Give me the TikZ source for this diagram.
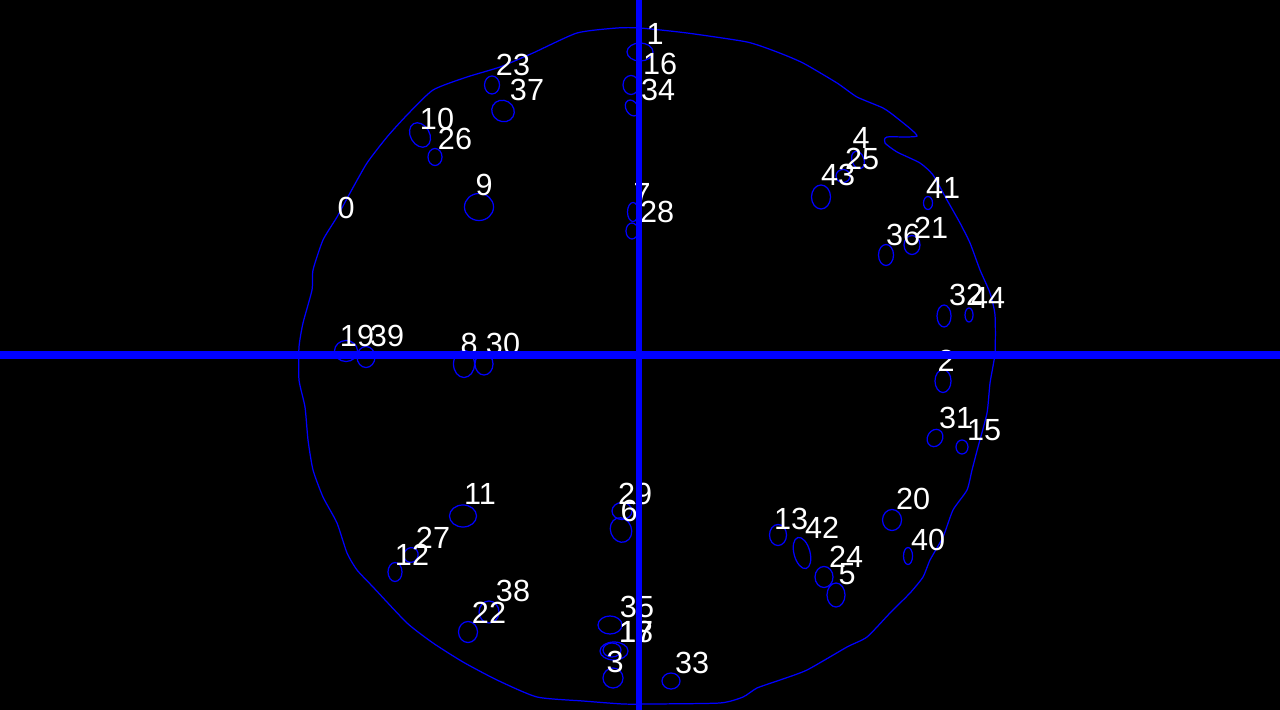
\documentclass[tikz,border=0pt]{standalone}
\usepackage{fontspec}
\setmainfont{Liberation Sans}
\begin{document}
\begin{tikzpicture}[x=0.01cm,y=-0.01cm,
  outline/.style={draw={rgb,255:red,0;green,0;blue,255},line width=0.35pt},
  blob/.style={draw={rgb,255:red,0;green,0;blue,255},line width=0.35pt},
  axis/.style={draw={rgb,255:red,0;green,0;blue,255},line width=1.8pt},
  lbl/.style={text=white,inner sep=0pt,font=\fontsize{8.7pt}{10pt}\selectfont}]
\fill[black] (0,0) rectangle (1280,710);
\useasboundingbox (0,0) rectangle (1280,710);
% outline
\draw[outline] plot[smooth cycle,tension=0.35] coordinates {
(640,28) (687,33) (747,42) (777,52) (803,63) (837,83) (857,97) (883,108) (897,118) (917,136) (887,137) (885,143) (897,152) (920,163) (933,175) (947,200) (960,223) (970,243) (980,270) (990,293) (995,315) (995,353) (990,383) (987,413) (978,447) (972,470) (967,490) (953,510) (943,537) (930,560) (923,577) (910,593) (890,613) (867,637) (847,647) (807,670) (780,680) (757,688) (743,697) (720,703) (650,704) (623,704) (583,701) (537,697) (497,680) (463,662) (433,643) (407,623) (373,587) (357,570) (347,553) (337,523) (323,497) (313,470) (308,440) (305,407) (299,380) (299,347) (303,323) (312,290) (313,270) (323,240) (337,217) (350,193) (367,163) (387,137) (407,115) (433,90) (467,77) (500,67) (533,53) (577,33) (617,28)};
% blobs
\foreach \cx/\cy/\w/\h/\r in {
640/52/26/18/0, 631/85/16/19/0, 632/108/12/17/30, 633/212/11/19/0, 632/231/12/16/0,
492/85/15/18/0, 503/111/23/21/-30, 420/135/19/26/30, 435/157/14/17/0, 479/207/29/27/0,
821/197/19/24/0, 858/160/12/18/20, 843/176/14/13/0, 928/203/9/13/0, 886/255/15/21/0,
912/245/16/19/0, 944/316/14/22/0, 969/315/8/14/0, 943/381/16/23/0, 935/438/15/18/-30,
962/447/12/14/0, 346/351/23/21/0, 366/357/18/21/0, 464/364/21/27/0, 484/364/18/22/0,
463/516/27/22/0, 411/555/14/15/-30, 395/572/14/19/0, 489/612/20/22/0, 468/632/19/21/0,
622/511/20/17/0, 621/530/21/25/20, 610/625/24/18/0, 614/651/28/18/0, 612/650/18/14/0,
613/678/20/20/0, 671/681/18/16/0, 778/535/17/21/0, 802/553/16/32/15, 824/577/18/21/0,
836/595/18/24/0, 892/520/19/21/0, 908/556/9/17/0}
{ \draw[blob,rotate around={\r:(\cx,\cy)}] (\cx,\cy) ellipse [x radius=\w*0.005cm, y radius=\h*0.005cm]; }
% labels
\node[lbl] (l0) at (346,208) {0};
\node[lbl] (l1) at (655,34) {1};
\node[lbl] (l2) at (946,361) {2};
\node[lbl] (l3) at (615,662) {3};
\node[lbl] (l4) at (861,138) {4};
\node[lbl] (l5) at (847,574) {5};
\node[lbl] (l6) at (629,511) {6};
\node[lbl] (l7) at (642,194) {7};
\node[lbl] (l8) at (469,344) {8};
\node[lbl] (l9) at (484,185) {9};
\node[lbl] (l10) at (437,119) {10};
\node[lbl] (l11) at (480,494) {11};
\node[lbl] (l12) at (412,555) {12};
\node[lbl] (l13) at (791,519) {13};
\node[lbl] (l15) at (984,430) {15};
\node[lbl] (l16) at (660,64) {16};
\node[lbl] (l17) at (636,632) {17};
\node[lbl] (l18) at (636,632) {18};
\node[lbl] (l19) at (357,336) {19};
\node[lbl] (l20) at (913,499) {20};
\node[lbl] (l21) at (931,228) {21};
\node[lbl] (l22) at (489,613) {22};
\node[lbl] (l23) at (513,65) {23};
\node[lbl] (l24) at (846,557) {24};
\node[lbl] (l25) at (862,159) {25};
\node[lbl] (l26) at (455,139) {26};
\node[lbl] (l27) at (433,538) {27};
\node[lbl] (l28) at (657,212) {28};
\node[lbl] (l29) at (635,494) {29};
\node[lbl] (l30) at (503,344) {30};
\node[lbl] (l31) at (956,418) {31};
\node[lbl] (l32) at (966,295) {32};
\node[lbl] (l33) at (692,663) {33};
\node[lbl] (l34) at (658,90) {34};
\node[lbl] (l35) at (637,607) {35};
\node[lbl] (l36) at (903,235) {36};
\node[lbl] (l37) at (527,90) {37};
\node[lbl] (l38) at (513,591) {38};
\node[lbl] (l39) at (387,336) {39};
\node[lbl] (l40) at (928,540) {40};
\node[lbl] (l41) at (943,188) {41};
\node[lbl] (l42) at (822,528) {42};
\node[lbl] (l43) at (838,175) {43};
\node[lbl] (l44) at (988,298) {44};
% crosshair
\coordinate (vt) at (639,0);
\coordinate (vb) at (639,710);
\coordinate (hl) at (0,355);
\coordinate (hr) at (1280,355);
\draw[axis] (vt) -- (vb);
\draw[axis,line width=2pt] (hl) -- (hr);
\end{tikzpicture}
\end{document}
